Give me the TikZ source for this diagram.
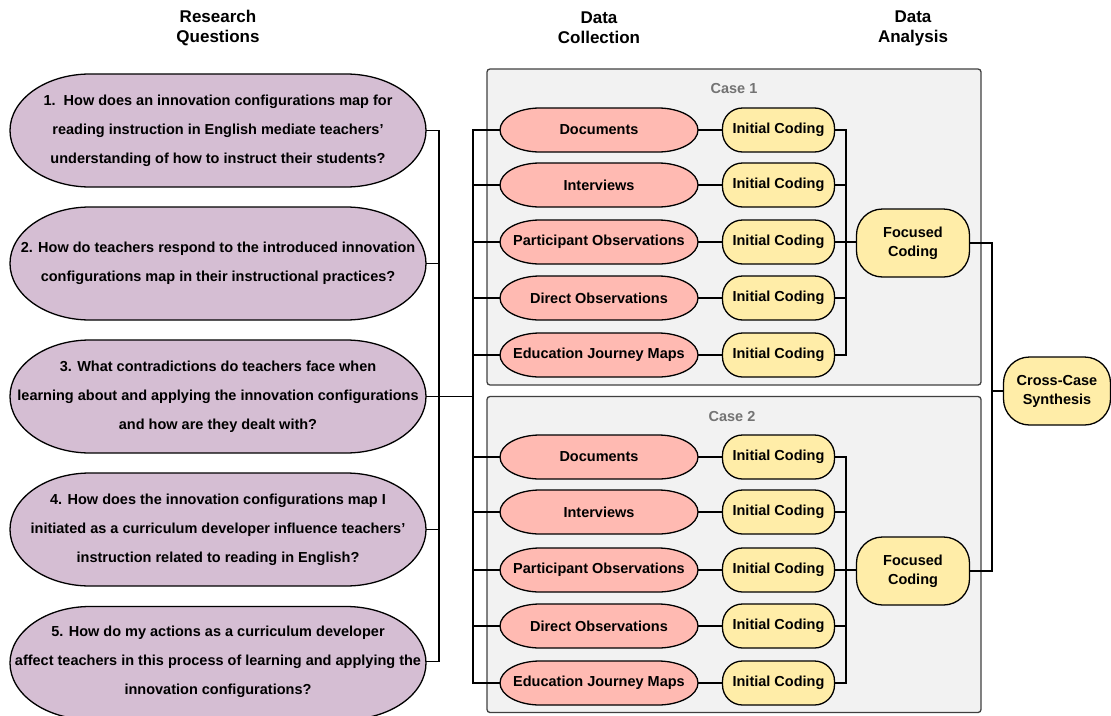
\documentclass[tikz,border=0pt]{standalone}
\usepackage{fontspec}
\setmainfont{Liberation Sans}
\definecolor{rqfill}{RGB}{213,190,211}
\definecolor{dcfill}{RGB}{255,186,178}
\definecolor{dafill}{RGB}{255,237,168}
\definecolor{casefill}{RGB}{242,242,242}
% outline with flat sides and elliptic ends: fill, centre, half width, half height, end radius
\newcommand{\capsule}[5]{%
    \filldraw[fill=#1, line width=1.3pt]
        ([xshift=-#3pt+#5pt, yshift=#4pt]#2) -- ([xshift=#3pt-#5pt, yshift=#4pt]#2)
        arc[start angle=90, end angle=-90, x radius=#5pt, y radius=#4pt]
        -- ([xshift=-#3pt+#5pt, yshift=-#4pt]#2)
        arc[start angle=270, end angle=90, x radius=#5pt, y radius=#4pt] -- cycle;}
\begin{document}
\begin{tikzpicture}[x=1pt, y=-1pt, line width=1.6pt, line cap=rect,
        every node/.style={draw, line width=1.3pt, align=center, inner sep=0pt, font=\bfseries\fontsize{14.5}{29}\selectfont},
        question/.style={draw=none, minimum width=416pt, minimum height=113pt},
        collect/.style={draw=none, minimum width=198pt, minimum height=44pt},
        coding/.style={rounded corners=20pt, fill=dafill, minimum width=112pt, minimum height=44pt},
        focus/.style={rounded corners=26pt, fill=dafill, minimum width=113pt, minimum height=68pt, font=\bfseries\fontsize{14.5}{19}\selectfont},
        header/.style={draw=none, font=\bfseries\fontsize{17}{20}\selectfont},
        casebox/.style={draw=black!75, fill=casefill, rounded corners=3pt, minimum width=494pt, minimum height=316pt},
        caselabel/.style={draw=none, text=black!55}]
        \useasboundingbox (0,0) rectangle (1111,715);

        % column headings
        \node[header] (hrq) at (218,28) {Research\\Questions};
        \node[header] (hdc) at (599,28) {Data\\Collection};
        \node[header] (hda) at (913,28) {Data\\Analysis};

        % cases
        \node[casebox] (case1) at (734,227) {};
        \node[casebox] (case2) at (734,554.5) {};
        \node[caselabel] (lab1) at (734,89) {Case 1};
        \node[caselabel] (lab2) at (732,417) {Case 2};

        % outlines
        \foreach \y in {130.5,263.5,396.5,529.5,663}
            {\capsule{rqfill}{218,\y}{208}{56.5}{80}}
        \foreach \y in {130,185,242,298,355,457,512,570,626,683}
            {\capsule{dcfill}{599,\y}{99}{22}{40}}

        % research questions
        \node[question] (q1) at (218,130.5) {1.\ \ How does an innovation configurations map for\\reading instruction in English mediate teachers'\\understanding of how to instruct their students?};
        \node[question] (q2) at (218,263.5) {2. How do teachers respond to the introduced innovation\\configurations map in their instructional practices?};
        \node[question] (q3) at (218,396.5) {3. What contradictions do teachers face when\\learning about and applying the innovation configurations\\and how are they dealt with?};
        \node[question] (q4) at (218,529.5) {4. How does the innovation configurations map I\\initiated as a curriculum developer influence teachers'\\instruction related to reading in English?};
        \node[question] (q5) at (218,661.5) {5. How do my actions as a curriculum developer\\affect teachers in this process of learning and applying the\\innovation configurations?};

        % case 1
        \node[collect] (d11) at (599,130) {Documents};
        \node[collect] (d12) at (599,185) {Interviews};
        \node[collect] (d13) at (599,242) {Participant Observations};
        \node[collect] (d14) at (599,298) {Direct Observations};
        \node[collect] (d15) at (599,355) {Education Journey Maps};
        \node[coding] (i11) at (778.5,130) {Initial Coding};
        \node[coding] (i12) at (778.5,185) {Initial Coding};
        \node[coding] (i13) at (778.5,242) {Initial Coding};
        \node[coding] (i14) at (778.5,298) {Initial Coding};
        \node[coding] (i15) at (778.5,355) {Initial Coding};
        \node[focus] (f1) at (913,243) {Focused\\Coding};

        % case 2
        \node[collect] (d21) at (599,457) {Documents};
        \node[collect] (d22) at (599,512) {Interviews};
        \node[collect] (d23) at (599,570) {Participant Observations};
        \node[collect] (d24) at (599,626) {Direct Observations};
        \node[collect] (d25) at (599,683) {Education Journey Maps};
        \node[coding] (i21) at (778.5,457) {Initial Coding};
        \node[coding] (i22) at (778.5,512) {Initial Coding};
        \node[coding] (i23) at (778.5,570) {Initial Coding};
        \node[coding] (i24) at (778.5,626) {Initial Coding};
        \node[coding] (i25) at (778.5,683) {Initial Coding};
        \node[focus] (f2) at (913,571) {Focused\\Coding};

        \node[focus, minimum width=107pt] (syn) at (1057,391) {Cross-Case\\Synthesis};

        % buses
        \coordinate (qbus) at (439,0);
        \coordinate (dbus) at (473,0);
        \coordinate (abus) at (846,0);
        \coordinate (sbus) at (992,0);

        \foreach \i in {1,...,5}
            \draw (q\i.east) -- (q\i.east -| qbus);
        \draw (q1.east -| qbus) -- (q5.east -| qbus);
        \draw (q3.east -| qbus) -- (q3.east -| dbus);
        \draw (d11.west -| dbus) -- (d25.west -| dbus);
        \foreach \c in {1,2} {
            \foreach \r in {1,...,5} {
                \draw (d\c\r.west) -- (d\c\r.west -| dbus);
                \draw (d\c\r.east) -- (i\c\r.west);
                \draw (i\c\r.east) -- (i\c\r.east -| abus);
            }
            \draw (i\c1.east -| abus) -- (i\c5.east -| abus);
            \draw (i\c3.east -| abus) -- (i\c3.east -| f\c.west);
            \draw (f\c.east) -- (f\c.east -| sbus);
        }
        \draw (f1.east -| sbus) -- (f2.east -| sbus);
        \draw (syn.west -| sbus) -- (syn.west);
    \end{tikzpicture}
\end{document}
